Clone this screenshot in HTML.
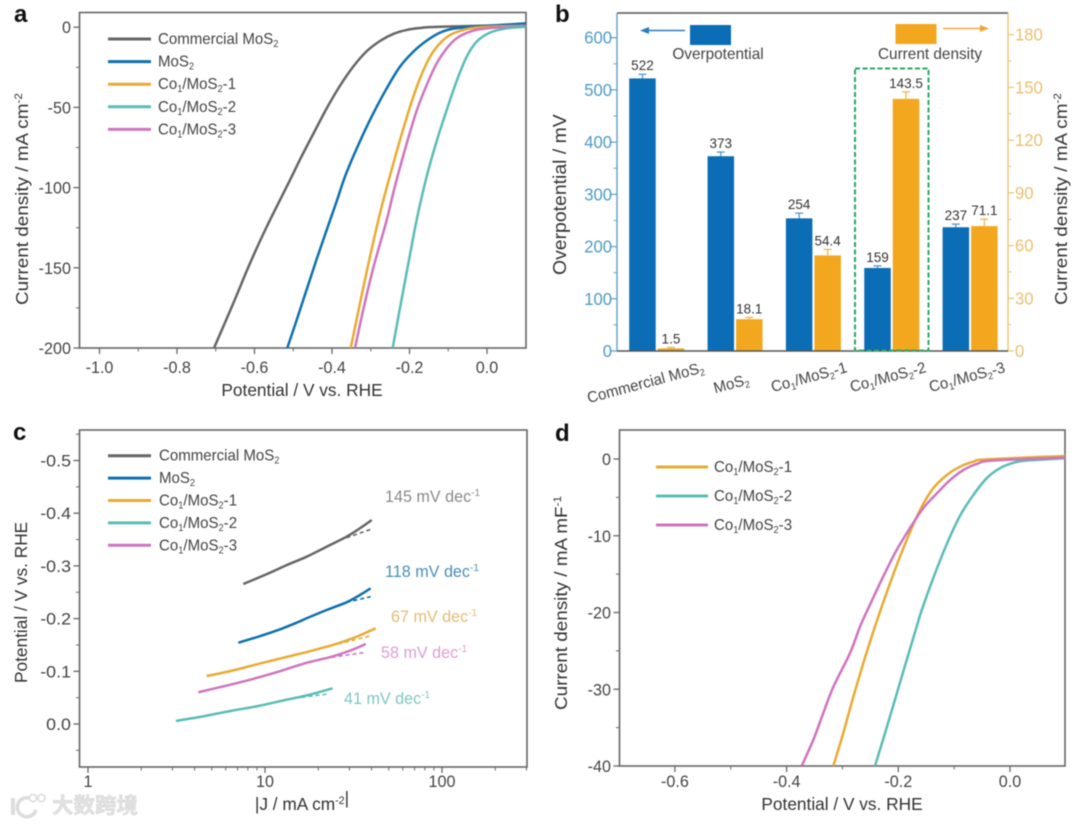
<!DOCTYPE html>
<html lang="en">
<head>
<meta charset="utf-8">
<title>Electrocatalysis chart panels</title>
<style>
html,body{margin:0;padding:0;background:#fff;width:1080px;height:825px;overflow:hidden}
svg{display:block;filter:blur(0.6px)}
text{font-family:"Liberation Sans","Noto Sans CJK SC",sans-serif}
</style>
</head>
<body>
<svg id="fig" xmlns="http://www.w3.org/2000/svg" width="1080" height="825" viewBox="0 0 1080 825">
  <defs>
    <clipPath id="clipA"><rect x="79" y="12" width="447" height="336"/></clipPath>
    <clipPath id="clipD"><rect x="619" y="430" width="446" height="336"/></clipPath>
  </defs>
  <rect width="1080" height="825" fill="#fff"/>
  <g id="panelA"></g>
  <g id="panelB"></g>
  <g id="panelC"></g>
  <g id="panelD"></g>
  <g id="watermark">
    <rect x="11" y="798" width="4" height="17" fill="#dcdcdc"/>
    <path d="M29,798 A9.5,9.5 0 1 0 36,810" fill="none" stroke="#dcdcdc" stroke-width="3.5"/>
    <circle cx="33" cy="798" r="3.6" fill="#fff" stroke="#dcdcdc" stroke-width="1.6"/>
    <circle cx="41.5" cy="798" r="3.6" fill="#fff" stroke="#dcdcdc" stroke-width="1.6"/>
    <text x="52" y="813" font-size="21.5" font-weight="bold" fill="#e2e2e2" stroke="#cfcfcf" stroke-width="0.4">大数跨境</text>
  </g>
</svg>
<script>
// ---------- shared data ----------
const seriesCommercial = 'Commercial MoS_{2}';
const seriesMoS2 = 'MoS_{2}';
const seriesCo1 = 'Co_{1}/MoS_{2}-1';
const seriesCo2 = 'Co_{1}/MoS_{2}-2';
const seriesCo3 = 'Co_{1}/MoS_{2}-3';

// ---------- panel a data ----------
const aXTicks = [-1.0, -0.8, -0.6, -0.4, -0.2, 0.0];
const aXMinor = [-0.9, -0.7, -0.5, -0.3, -0.1];
const aYTicks = [0, -50, -100, -150, -200];
const aYMinor = [-25, -75, -125, -175];
const aCommercialV = [-0.7045,-0.6547,-0.6116,-0.5685,-0.5084,-0.4826,-0.4483,-0.4137,-0.3794,-0.345,-0.3105,-0.2761,-0.2418,-0.2072,-0.1729,-0.1213,0.1];
const aCommercialJ = [-200,-172.1,-147.2,-124.4,-95.3,-82.5,-66.5,-50.6,-36.5,-24.5,-15,-8.6,-4.2,-1.7,-0.5,0.3,1.4];
const aMoS2V = [-0.5154,-0.4911,-0.4653,-0.4395,-0.4137,-0.3879,-0.3639,-0.3277,-0.2934,-0.2588,-0.2245,-0.1902,-0.1556,-0.1213,-0.087,-0.0354,0.1];
const aMoS2J = [-200,-182.5,-163.5,-144.5,-126.4,-108.5,-91.5,-71,-53.7,-38.1,-24.6,-15.3,-8.4,-3.4,-0.9,0.3,2.4];
const aCo1V = [-0.3517,-0.3277,-0.3019,-0.2761,-0.2503,-0.2245,-0.1987,-0.1729,-0.1471,-0.1213,-0.0955,-0.0612,-0.0181,0.1];
const aCo1J = [-200,-172,-143,-116,-92.5,-70.3,-49.6,-31.9,-18.4,-10,-4.9,-1.7,0,0.9];
const aCo2V = [-0.2434,-0.2245,-0.2031,-0.1814,-0.1556,-0.1298,-0.104,-0.0782,-0.0524,-0.0266,0.0077,0.0508,0.1];
const aCo2J = [-200,-175,-147.5,-120,-93,-71,-51.6,-33.5,-18.4,-9,-3.4,-0.7,0.3];
const aCo3V = [-0.3406,-0.3192,-0.2934,-0.2588,-0.2374,-0.2072,-0.1814,-0.1556,-0.1298,-0.104,-0.0782,-0.0439,-0.0008,0.1];
const aCo3J = [-200,-176,-150,-120.2,-99,-72.5,-52,-36,-22.5,-13.2,-6.9,-2.8,-0.7,0.9];

// ---------- panel b data ----------
const bCategories = [seriesCommercial, seriesMoS2, seriesCo1, seriesCo2, seriesCo3];
const bOverpotential = [522, 373, 254, 159, 237];
const bOverpotentialErr = [8, 8, 10, 4, 6];
const bCurrent = [1.5, 18.1, 54.4, 143.5, 71.1];
const bCurrentErr = [0.5, 1, 3.4, 4, 4];
const bLeftTicks = [0, 100, 200, 300, 400, 500, 600];
const bLeftMinor = [50, 150, 250, 350, 450, 550];
const bRightTicks = [0, 30, 60, 90, 120, 150, 180];
const bRightMinor = [15, 45, 75, 105, 135, 165];

// ---------- panel c data ----------
const cXTicks = [1, 10, 100];
const cXMinor = [2,3,4,5,6,7,8,9,20,30,40,50,60,70,80,90,200,300];
const cYTicks = [0.0, -0.1, -0.2, -0.3, -0.4, -0.5];
const cYMinor = [0.05, -0.05, -0.15, -0.25, -0.35, -0.45, -0.55];
const cCommercialJ = [7.54,10.2,13.3,17.2,22.3,28.9,34.4,40.1];
const cCommercialE = [-0.2657,-0.2841,-0.3017,-0.3175,-0.3364,-0.3554,-0.3714,-0.3871];
const cCommercialFitJ = [26.5,40.1];
const cCommercialFitE = [-0.3491,-0.37];
const cMoS2J = [7.07,9.17,11.9,15.4,17.2,22.3,28.9,34.4,39.5];
const cMoS2E = [-0.1543,-0.1657,-0.1784,-0.1935,-0.2006,-0.2163,-0.2309,-0.2448,-0.2575];
const cMoS2FitJ = [28.9,39.5];
const cMoS2FitE = [-0.2309,-0.2416];
const cCo1J = [4.68,6.49,9.17,13,18.4,25.9,33.7,42.2];
const cCo1E = [-0.0911,-0.1011,-0.1139,-0.1266,-0.1391,-0.1531,-0.167,-0.1816];
const cCo1FitJ = [25.9,39.2];
const cCo1FitE = [-0.1518,-0.167];
const cCo2J = [3.14,4.58,6.49,9.17,13,17.6,24.1];
const cCo2E = [-0.0057,-0.0152,-0.0252,-0.0342,-0.0455,-0.055,-0.0677];
const cCo2FitJ = [16.1,22.8];
const cCo2FitE = [-0.0507,-0.0569];
const cCo3J = [4.2,5.94,8.41,11.9,16.8,23.8,30.9,37.1];
const cCo3E = [-0.0602,-0.0721,-0.0848,-0.0992,-0.1152,-0.1277,-0.1404,-0.1518];
const cCo3FitJ = [23.8,37.1];
const cCo3FitE = [-0.1266,-0.136];
const cSlopes = ['145 mV dec^{-1}','118 mV dec^{-1}','67 mV dec^{-1}','41 mV dec^{-1}','58 mV dec^{-1}'];

// ---------- panel d data ----------
const dXTicks = [-0.6, -0.4, -0.2, 0.0];
const dXMinor = [-0.5, -0.3, -0.1];
const dYTicks = [0, -10, -20, -30, -40];
const dYMinor = [-5, -15, -25, -35];
const dCo1V = [-0.3164,-0.2985,-0.2806,-0.2627,-0.2448,-0.2328,-0.2089,-0.185,-0.1611,-0.1373,-0.1133,-0.0895,-0.0657,-0.0417,0.1];
const dCo1J = [-40,-35.7,-31,-26.6,-22.5,-19.9,-15,-10.55,-6.65,-3.8,-2.1,-1,-0.35,-0.05,0.4];
const dCo2V = [-0.2417,-0.2208,-0.2029,-0.185,-0.1671,-0.1581,-0.1373,-0.1133,-0.0895,-0.0657,-0.0417,-0.0179,0.0059,0.0299,0.1];
const dCo2J = [-40,-35,-30.6,-26.2,-21.85,-19.7,-15.5,-11.1,-7.4,-4.7,-2.5,-1.2,-0.5,-0.2,0.1];
const dCo3V = [-0.373,-0.3522,-0.3343,-0.3164,-0.2865,-0.2686,-0.2537,-0.2269,-0.2029,-0.1791,-0.1552,-0.1312,-0.1074,-0.0836,-0.0596,-0.0299,0.1];
const dCo3J = [-40,-36.6,-33.1,-29.7,-25.3,-21.85,-19.45,-15.3,-11.85,-9,-6.4,-4.5,-2.75,-1.45,-0.65,-0.2,0.2];

// ---------- palette ----------
const GRAY='#666666', BLUE='#0f6fad', ORANGE='#e9aa33', TEAL='#5bbcb5', PINK='#cf74bd';
const FRAME='#666666', INK='#444444';
const BAR_BLUE='#0a6db5', BAR_ORANGE='#f3a71f';
const NS='http://www.w3.org/2000/svg';

function make(tag, attrs, parent, name){
  const el=document.createElementNS(NS,tag);
  for(const k in attrs) el.setAttribute(k,attrs[k]);
  
  
  parent.appendChild(el);
  return el;
}
function rich(s){
  return s.replace(/_\{([^}]*)\}([^_^]*)/g,(m,a,b)=>`<tspan dy="3" font-size="0.62em">${a}</tspan><tspan dy="-3">${b||'\u200b'}</tspan>`)
          .replace(/\^\{([^}]*)\}/g,(m,a)=>`<tspan dy="-6" font-size="0.62em">${a}</tspan>`);
}
function label(parent,name,x,y,str,o){
  o=o||{};
  const t=`translate(${x},${y}) rotate(${o.rot||0}) scale(${o.sx||0.95},1)`;
  const el=make('text',{transform:t,'font-size':o.size||16,fill:o.fill||INK,'text-anchor':o.anchor||'start','font-weight':o.weight||'normal'},parent,name);
  el.innerHTML=rich(str);
  return el;
}
function line(parent,name,x1,y1,x2,y2,stroke,w,extra){
  const a=Object.assign({x1,y1,x2,y2,stroke,'stroke-width':w},extra||{});
  return make('line',a,parent,name);
}
function smooth(pts){
  let d=`M${pts[0][0].toFixed(2)},${pts[0][1].toFixed(2)}`;
  for(let i=0;i<pts.length-1;i++){
    const p0=pts[i-1]||pts[i],p1=pts[i],p2=pts[i+1],p3=pts[i+2]||p2;
    const c1x=p1[0]+(p2[0]-p0[0])/6,c1y=p1[1]+(p2[1]-p0[1])/6;
    const c2x=p2[0]-(p3[0]-p1[0])/6,c2y=p2[1]-(p3[1]-p1[1])/6;
    d+=`C${c1x.toFixed(2)},${c1y.toFixed(2)} ${c2x.toFixed(2)},${c2y.toFixed(2)} ${p2[0].toFixed(2)},${p2[1].toFixed(2)}`;
  }
  return d;
}
function curve(parent,name,xs,ys,sx,sy,color,clip,w){
  const pts=xs.map((v,i)=>[sx(v),sy(ys[i])]);
  const a={d:smooth(pts),fill:'none',stroke:color,'stroke-width':w||2.5,'stroke-linejoin':'round'};
  if(clip) a['clip-path']=`url(#${clip})`;
  return make('path',a,parent,name);
}
function frame(parent,name,x0,y0,x1,y1){
  make('rect',{x:x0,y:y0,width:x1-x0,height:y1-y0,fill:'none',stroke:FRAME,'stroke-width':1.6},parent,name);
}
function legend(parent,entries,x1,x2,tx,yStart,yStep,dyText,size){
  entries.forEach((e,i)=>{
    const y=yStart+i*yStep;
    line(parent,'legend-line-'+e.key,x1,y,x2,y,e.color,3);
    label(parent,'legend-label-'+e.key,tx,y+dyText,e.text,{size:size,sx:0.94});
  });
}
const TITLE={size:18,sx:0.96,fill:'#333'};
const TITLE_WIDE={size:18,sx:1.05,fill:'#333'};
const TICK=17;

// ---------- panel a ----------
(function(){
  const g=document.getElementById('panelA');
  const sx=v=>487+v*387.5, sy=v=>27.2-v*1.604;
  frame(g,'plot-frame',79.5,12.5,526,348);
  aXTicks.forEach(v=>{line(g,'x-tick',sx(v),348,sx(v),354,FRAME,1.3);
    label(g,'x-tick-label',sx(v),373,v.toFixed(1),{anchor:'middle',size:TICK});});
  aXMinor.forEach(v=>line(g,'x-minor-tick',sx(v),348,sx(v),351.5,FRAME,1));
  aYTicks.forEach(v=>{line(g,'y-tick',73.5,sy(v),79.5,sy(v),FRAME,1.3);
    label(g,'y-tick-label',71,sy(v)+6,String(v),{anchor:'end',size:TICK});});
  aYMinor.forEach(v=>line(g,'y-minor-tick',76,sy(v),79.5,sy(v),FRAME,1));
  curve(g,'series-commercial-mos2',aCommercialV,aCommercialJ,sx,sy,GRAY,'clipA');
  curve(g,'series-mos2',aMoS2V,aMoS2J,sx,sy,BLUE,'clipA');
  curve(g,'series-co1-mos2-1',aCo1V,aCo1J,sx,sy,ORANGE,'clipA');
  curve(g,'series-co1-mos2-3',aCo3V,aCo3J,sx,sy,PINK,'clipA');
  curve(g,'series-co1-mos2-2',aCo2V,aCo2J,sx,sy,TEAL,'clipA');
  legend(g,[{key:'commercial',color:GRAY,text:seriesCommercial},{key:'mos2',color:BLUE,text:seriesMoS2},{key:'co1',color:ORANGE,text:seriesCo1},{key:'co2',color:TEAL,text:seriesCo2},{key:'co3',color:PINK,text:seriesCo3}],108,151,158,39,22.6,5,16);
  label(g,'y-axis-title',28,305,'Current density / mA cm^{-2}',Object.assign({rot:-90},TITLE_WIDE));
  label(g,'x-axis-title',302,396,'Potential / V vs. RHE',Object.assign({anchor:'middle'},TITLE));
  label(g,'panel-letter-a',14,22,'a',{size:24,weight:'bold',fill:'#111',sx:1});
})();

// ---------- panel b ----------
(function(){
  const g=document.getElementById('panelB');
  const x0=617,x1=1008,y0=351;
  const syL=v=>y0-v*0.5222, syR=v=>y0-v*1.757;
  const gx=i=>656.7+i*78.35;
  const barW=26.5;
  line(g,'top-spine',x0,13,x1,13,'#555',1.5);
  line(g,'left-axis',x0,13,x0,y0,'#6aa6c9',1.5);
  line(g,'right-axis',x1,13,x1,y0,'#ecc67a',1.5);
  bLeftTicks.forEach(v=>{line(g,'left-tick',x0-6,syL(v),x0,syL(v),'#6aa6c9',1.3);
    label(g,'left-tick-label',x0-5,syL(v)+6,String(v),{anchor:'end',size:17.5,fill:'#4d9bc4'});});
  bLeftMinor.forEach(v=>line(g,'left-minor-tick',x0-3.5,syL(v),x0,syL(v),'#6aa6c9',1));
  bRightTicks.forEach(v=>{line(g,'right-tick',x1,syR(v),x1+6,syR(v),'#ecc67a',1.3);
    label(g,'right-tick-label',x1+7,syR(v)+6,String(v),{size:17.5,fill:'#eabf6e'});});
  bRightMinor.forEach(v=>line(g,'right-minor-tick',x1,syR(v),x1+3.5,syR(v),'#ecc67a',1));
  bCategories.forEach((c,i)=>{
    const bx=gx(i)-barW-1, ox=gx(i)+1;
    const by=syL(bOverpotential[i]), oy=syR(bCurrent[i]);
    const bc=bx+barW/2, oc=ox+barW/2;
    const be=syL(bOverpotential[i]+bOverpotentialErr[i]), oe=syR(bCurrent[i]+bCurrentErr[i]);
    line(g,'overpotential-error-bar',bc,by,bc,be,'#4f8fbf',1.2);
    line(g,'overpotential-error-cap',bc-4,be,bc+4,be,'#4f8fbf',1.2);
    line(g,'current-error-bar',oc,oy,oc,oe,'#eeb04a',1.2);
    line(g,'current-error-cap',oc-4,oe,oc+4,oe,'#eeb04a',1.2);
    make('rect',{x:bx,y:by,width:barW,height:y0-by,fill:BAR_BLUE},g,'overpotential-bar');
    make('rect',{x:ox,y:oy,width:barW,height:y0-oy,fill:BAR_ORANGE},g,'current-density-bar');
    label(g,'overpotential-value',bc,be-4,String(bOverpotential[i]),{anchor:'middle',size:13.5,fill:'#333',sx:1});
    label(g,'current-density-value',oc,oe-4,bCurrent[i].toFixed(1),{anchor:'middle',size:13.5,fill:'#333',sx:1});
  });
  line(g,'baseline',x0,y0,x1,y0,'#555',1.5);
  make('rect',{x:855,y:68.5,width:73.5,height:282,fill:'none',stroke:'#2aa866','stroke-width':2,'stroke-dasharray':'5 2.5'},g,'highlight-box');
  make('rect',{x:690,y:25,width:41,height:20,fill:BAR_BLUE},g,'legend-swatch-overpotential');
  make('rect',{x:895.5,y:24,width:41,height:20,fill:BAR_ORANGE},g,'legend-swatch-current-density');
  line(g,'legend-arrow-left-shaft',645,30.5,685,30.5,'#2a7fb8',1.6);
  make('path',{d:'M640,30.5 L649,27 L649,34 Z',fill:'#2a7fb8'},g,'legend-arrow-left-head');
  line(g,'legend-arrow-right-shaft',943,28.5,983,28.5,'#eda83a',1.6);
  make('path',{d:'M989,28.5 L980,25 L980,32 Z',fill:'#eda83a'},g,'legend-arrow-right-head');
  label(g,'legend-label-overpotential',718,59,'Overpotential',{anchor:'middle',size:16,sx:0.96,fill:'#444'});
  label(g,'legend-label-current-density',930,59,'Current density',{anchor:'middle',size:16,sx:0.96,fill:'#444'});
  const catEnds=[[705,372],[750,384],[848,372],[927,372],[1006,372]];
  bCategories.forEach((c,i)=>{
    label(g,'category-label',catEnds[i][0],catEnds[i][1],c,{anchor:'end',rot:-15,size:15.5,sx:0.97});
  });
  label(g,'left-axis-title',566,275,'Overpotential / mV',{rot:-90,size:18.5,sx:1.05,fill:'#333'});
  label(g,'right-axis-title',1067,305,'Current density / mA cm^{-2}',Object.assign({rot:-90},TITLE_WIDE));
  label(g,'panel-letter-b',555,22,'b',{size:24,weight:'bold',fill:'#111',sx:1});
})();

// ---------- panel c ----------
(function(){
  const g=document.getElementById('panelC');
  const sx=v=>88+Math.log10(v)*177, sy=v=>724+v*527;
  frame(g,'plot-frame',79.5,430,527,767);
  cXTicks.forEach(v=>{line(g,'x-tick',sx(v),767,sx(v),773,FRAME,1.3);
    label(g,'x-tick-label',sx(v),787,String(v),{anchor:'middle',size:TICK});});
  cXMinor.forEach(v=>line(g,'x-minor-tick',sx(v),767,sx(v),770.5,FRAME,1));
  cYTicks.forEach(v=>{line(g,'y-tick',73.5,sy(v),79.5,sy(v),FRAME,1.3);
    label(g,'y-tick-label',71,sy(v)+6,v.toFixed(1),{anchor:'end',size:TICK,sx:1.05});});
  cYMinor.forEach(v=>line(g,'y-minor-tick',76,sy(v),79.5,sy(v),FRAME,1));
  const dash={'stroke-dasharray':'4 3'};
  function fit(name,xs,ys,color){
    line(g,name,sx(xs[0]),sy(ys[0]),sx(xs[1]),sy(ys[1]),color,1.6,dash);
  }
  curve(g,'series-commercial-mos2',cCommercialJ,cCommercialE,sx,sy,GRAY);
  fit('fit-commercial-mos2',cCommercialFitJ,cCommercialFitE,GRAY);
  curve(g,'series-mos2',cMoS2J,cMoS2E,sx,sy,BLUE);
  fit('fit-mos2',cMoS2FitJ,cMoS2FitE,BLUE);
  curve(g,'series-co1-mos2-1',cCo1J,cCo1E,sx,sy,ORANGE);
  fit('fit-co1-mos2-1',cCo1FitJ,cCo1FitE,ORANGE);
  curve(g,'series-co1-mos2-3',cCo3J,cCo3E,sx,sy,PINK);
  fit('fit-co1-mos2-3',cCo3FitJ,cCo3FitE,PINK);
  curve(g,'series-co1-mos2-2',cCo2J,cCo2E,sx,sy,TEAL);
  fit('fit-co1-mos2-2',cCo2FitJ,cCo2FitE,TEAL);
  legend(g,[{key:'commercial',color:GRAY,text:seriesCommercial},{key:'mos2',color:BLUE,text:seriesMoS2},{key:'co1',color:ORANGE,text:seriesCo1},{key:'co2',color:TEAL,text:seriesCo2},{key:'co3',color:PINK,text:seriesCo3}],108,151,159,455.7,22.4,5,16);
  const slopeColors=['#8a8a8a','#4a8fb5','#e3bc73','#7fc7c1','#dc9fcf'];
  const slopeAt=[[385,502],[385,577],[391,622],[344,704],[381,658]];
  cSlopes.forEach((s,i)=>label(g,'slope-label',slopeAt[i][0],slopeAt[i][1],s,{size:17,fill:slopeColors[i]}));
  label(g,'y-axis-title',27,683,'Potential / V vs. RHE',Object.assign({rot:-90},TITLE));
  label(g,'x-axis-title',302,810,'|J / mA cm^{-2}|',Object.assign({anchor:'middle'},TITLE));
  label(g,'panel-letter-c',13,440,'c',{size:24,weight:'bold',fill:'#111',sx:1});
})();

// ---------- panel d ----------
(function(){
  const g=document.getElementById('panelD');
  const sx=v=>1010+v*558.5, sy=v=>459-v*7.675;
  frame(g,'plot-frame',619.5,430,1065,766);
  dXTicks.forEach(v=>{line(g,'x-tick',sx(v),766,sx(v),772,FRAME,1.3);
    label(g,'x-tick-label',sx(v),787,v.toFixed(1),{anchor:'middle',size:TICK});});
  dXMinor.forEach(v=>line(g,'x-minor-tick',sx(v),766,sx(v),769.5,FRAME,1));
  dYTicks.forEach(v=>{line(g,'y-tick',613.5,sy(v),619.5,sy(v),FRAME,1.3);
    label(g,'y-tick-label',611,sy(v)+6,String(v),{anchor:'end',size:TICK});});
  dYMinor.forEach(v=>line(g,'y-minor-tick',616,sy(v),619.5,sy(v),FRAME,1));
  curve(g,'series-co1-mos2-2',dCo2V,dCo2J,sx,sy,TEAL,'clipD');
  curve(g,'series-co1-mos2-1',dCo1V,dCo1J,sx,sy,ORANGE,'clipD');
  curve(g,'series-co1-mos2-3',dCo3V,dCo3J,sx,sy,PINK,'clipD');
  legend(g,[{key:'co1',color:ORANGE,text:seriesCo1},{key:'co2',color:TEAL,text:seriesCo2},{key:'co3',color:PINK,text:seriesCo3}],656,708,714,467,29,5,16);
  label(g,'y-axis-title',567,710,'Current density / mA mF^{-1}',Object.assign({rot:-90},TITLE_WIDE));
  label(g,'x-axis-title',842,810,'Potential / V vs. RHE',Object.assign({anchor:'middle'},TITLE));
  label(g,'panel-letter-d',555,441,'d',{size:24,weight:'bold',fill:'#111',sx:1});
})();
</script>
</body>
</html>
